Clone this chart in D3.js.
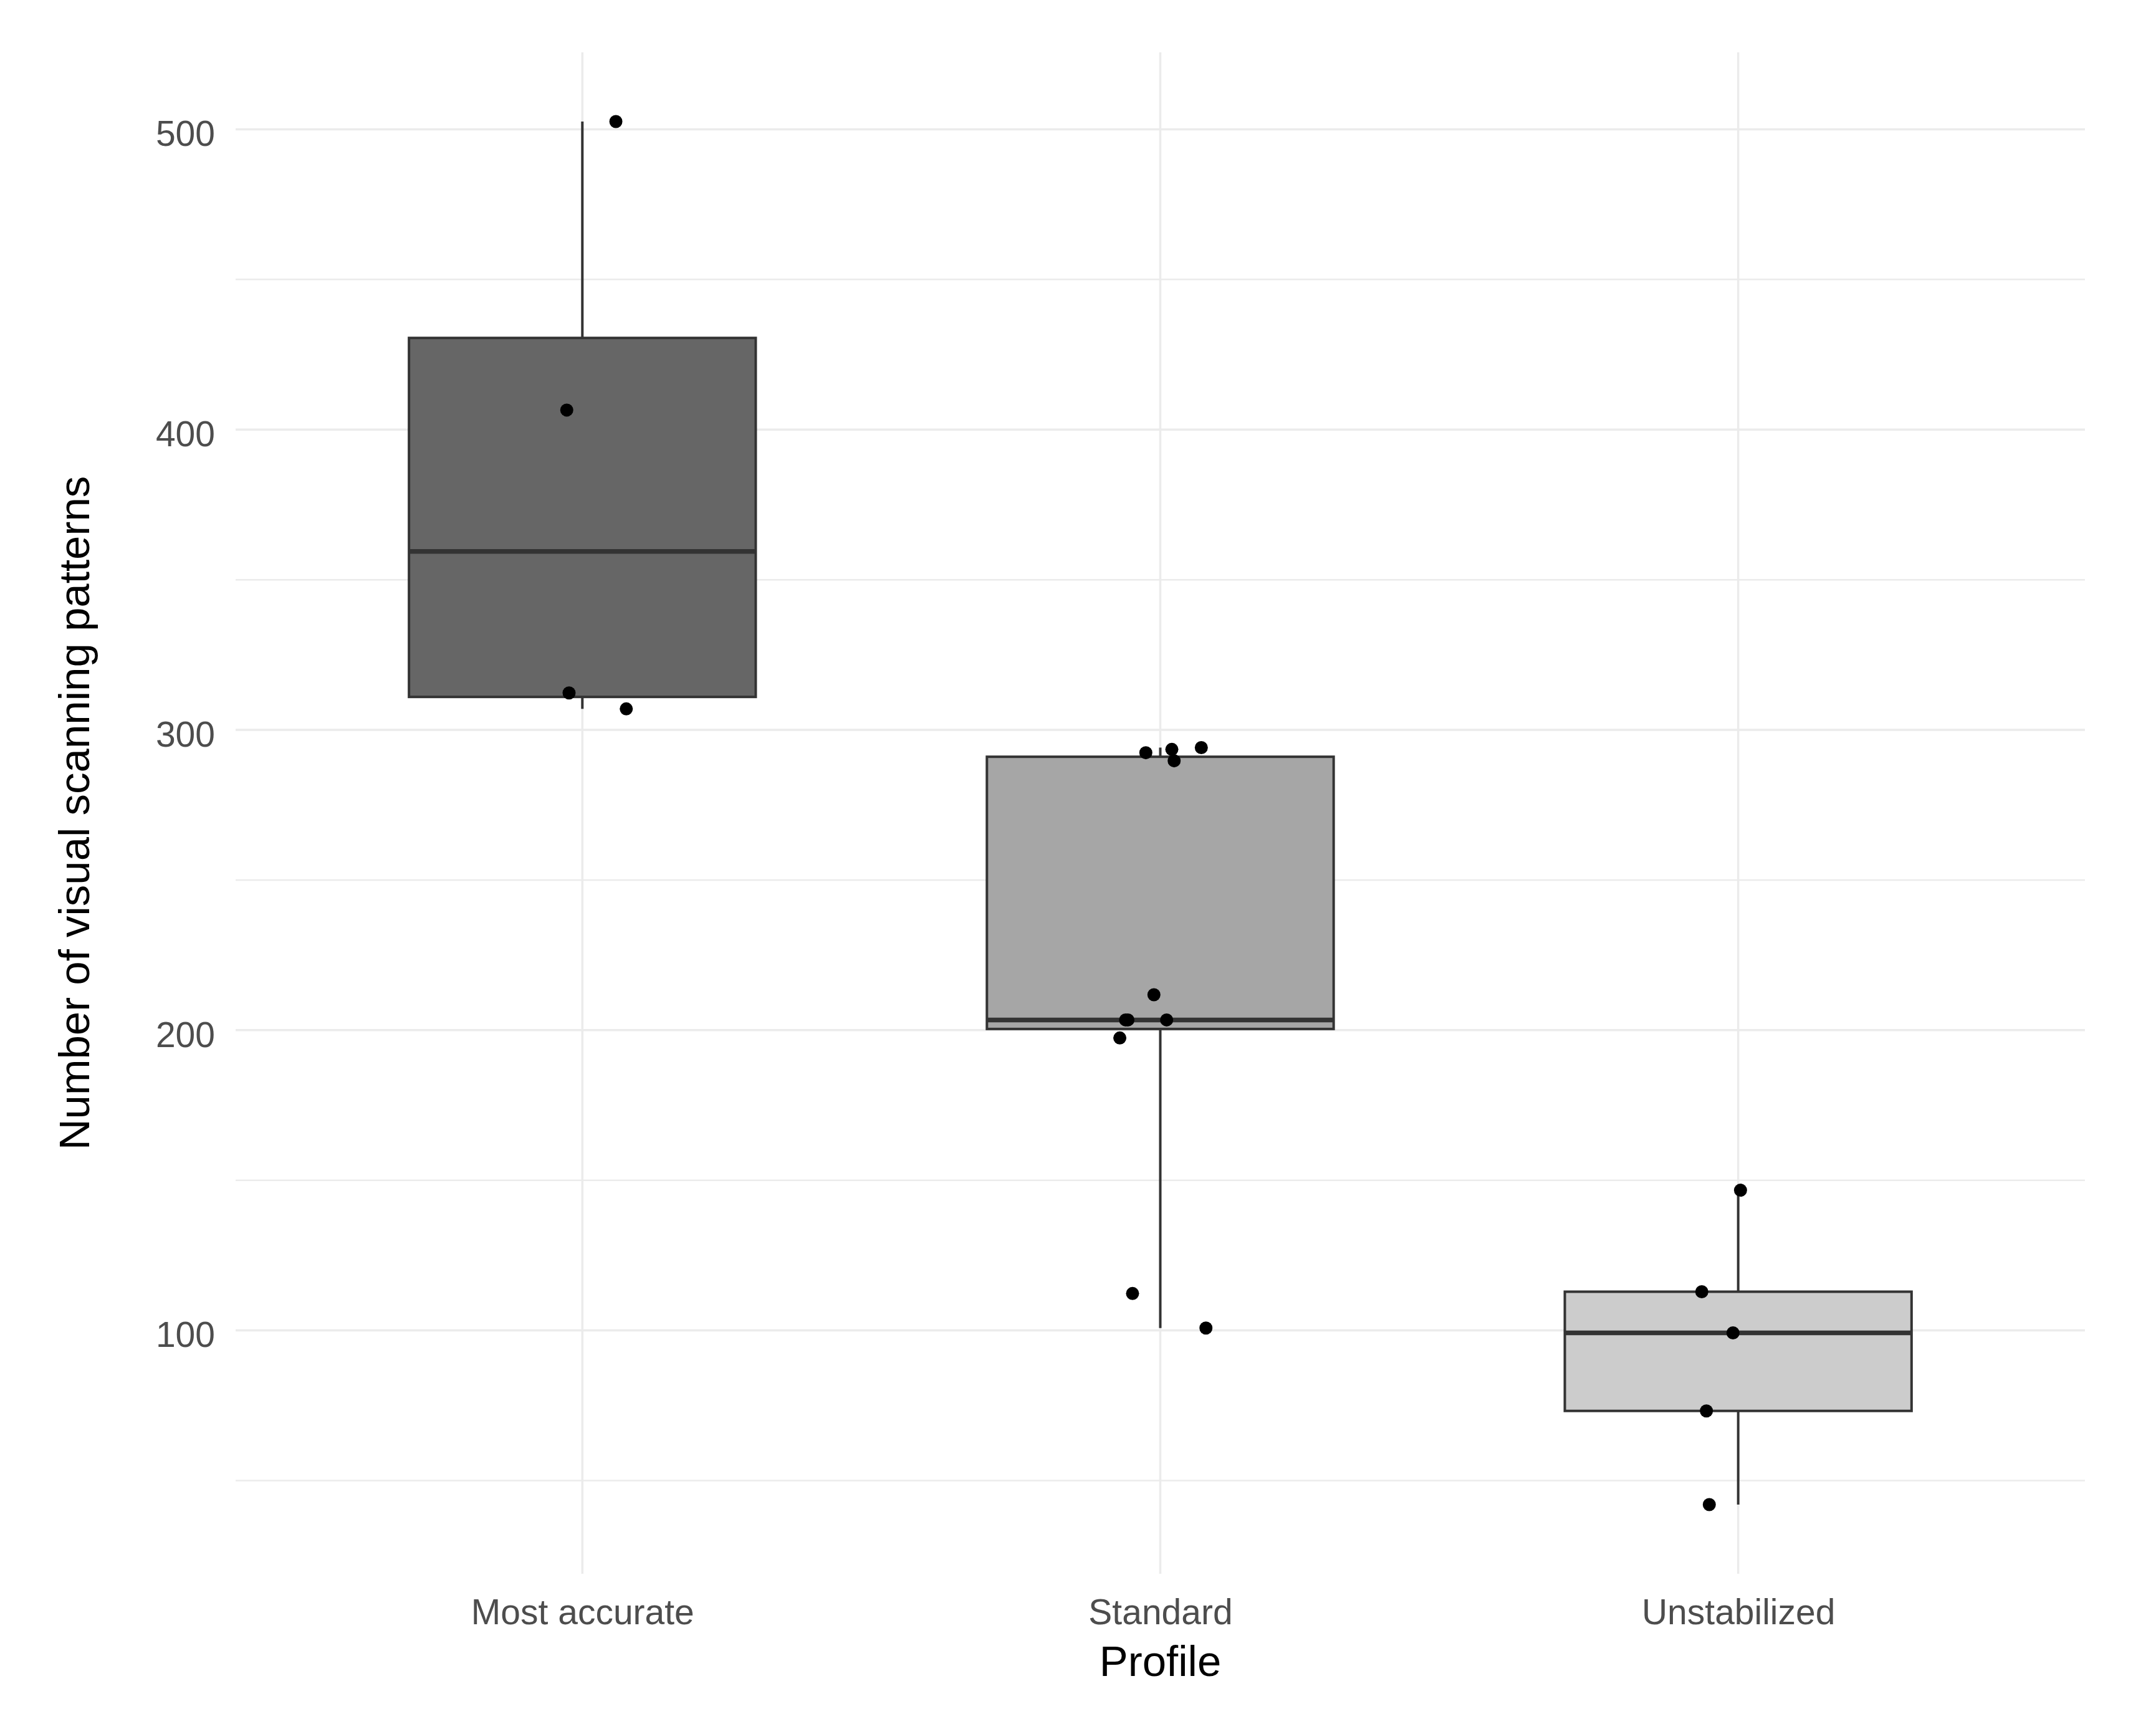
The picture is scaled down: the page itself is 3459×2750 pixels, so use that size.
<!DOCTYPE html>
<html>
<head>
<meta charset="utf-8">
<script src="https://cdn.jsdelivr.net/npm/d3@7"></script>
<style>
  body { margin: 0; background: #fff; }
  text { font-family: "Liberation Sans", Arial, sans-serif; }
</style>
</head>
<body>
<svg id="chart"></svg>
<script>
let width = 3459;
let height = 2750;

// categories on the x axis
let profiles = ['Most accurate', 'Standard', 'Unstabilized'];

let mostAccurate = [502.6, 406.5, 312.3, 307.0];
let standard = [292.4, 293.5, 289.7, 294.1, 211.8, 203.4, 203.4, 203.4, 197.4, 112.3, 100.8];
let unstabilized = [146.7, 112.9, 99.2, 73.2, 42.0];

// horizontal jitter of each point, in category units
let mostAccurateJitter = [0.058, -0.027, -0.023, 0.076];
let standardJitter = [-0.025, 0.02, 0.024, 0.071, -0.011, -0.06, -0.056, 0.011, -0.07, -0.048, 0.079];
let unstabilizedJitter = [0.004, -0.063, -0.009, -0.055, -0.05];

let fills = ['#666666', '#a6a6a6', '#cccccc'];

let yMajor = [100, 200, 300, 400, 500];
let yMinor = [50, 150, 250, 350, 450];

let groups = [
  { name: profiles[0], values: mostAccurate, jitter: mostAccurateJitter, fill: fills[0] },
  { name: profiles[1], values: standard, jitter: standardJitter, fill: fills[1] },
  { name: profiles[2], values: unstabilized, jitter: unstabilizedJitter, fill: fills[2] },
];

// box stats like ggplot (type 7 quantiles, 1.5 IQR whiskers)
groups.forEach((g) => {
  let s = g.values.slice().sort(d3.ascending);
  g.q1 = d3.quantile(s, 0.25);
  g.med = d3.quantile(s, 0.5);
  g.q3 = d3.quantile(s, 0.75);
  let iqr = g.q3 - g.q1;
  g.lo = d3.min(s.filter((v) => v >= g.q1 - 1.5 * iqr));
  g.hi = d3.max(s.filter((v) => v <= g.q3 + 1.5 * iqr));
});

let panel = { left: 378, right: 3345, top: 84, bottom: 2525 };

let all = groups.flatMap((g) => g.values);
let lo = d3.min(all);
let hi = d3.max(all);
let pad = (hi - lo) * 0.05;

let y = d3.scaleLinear().domain([lo - pad, hi + pad]).range([panel.bottom, panel.top]);
let x = d3.scalePoint().domain(profiles).range([panel.left, panel.right]).padding(0.6);
let step = x.step();
let boxW = step * 0.6;

let svg = d3.select('#chart').attr('width', width).attr('height', height);
svg.append('rect').attr('width', width).attr('height', height).attr('fill', '#fff');

// grid
let grid = svg.append('g');
grid.selectAll('.minor')
  .data(yMinor)
  .enter()
  .append('line')
  .attr('x1', panel.left)
  .attr('x2', panel.right)
  .attr('y1', (d) => y(d))
  .attr('y2', (d) => y(d))
  .attr('stroke', '#ebebeb')
  .attr('stroke-width', 2.5);
grid.selectAll('.major')
  .data(yMajor)
  .enter()
  .append('line')
  .attr('x1', panel.left)
  .attr('x2', panel.right)
  .attr('y1', (d) => y(d))
  .attr('y2', (d) => y(d))
  .attr('stroke', '#ebebeb')
  .attr('stroke-width', 3.5);
grid.selectAll('.vert')
  .data(profiles)
  .enter()
  .append('line')
  .attr('x1', (d) => x(d))
  .attr('x2', (d) => x(d))
  .attr('y1', panel.top)
  .attr('y2', panel.bottom)
  .attr('stroke', '#ebebeb')
  .attr('stroke-width', 3.5);

// boxes
let box = svg.selectAll('.box').data(groups).enter().append('g');
box.append('line')
  .attr('x1', (d) => x(d.name))
  .attr('x2', (d) => x(d.name))
  .attr('y1', (d) => y(d.hi))
  .attr('y2', (d) => y(d.q3))
  .attr('stroke', '#333')
  .attr('stroke-width', 4);
box.append('line')
  .attr('x1', (d) => x(d.name))
  .attr('x2', (d) => x(d.name))
  .attr('y1', (d) => y(d.q1))
  .attr('y2', (d) => y(d.lo))
  .attr('stroke', '#333')
  .attr('stroke-width', 4);
box.append('rect')
  .attr('x', (d) => x(d.name) - boxW / 2)
  .attr('width', boxW)
  .attr('y', (d) => y(d.q3))
  .attr('height', (d) => y(d.q1) - y(d.q3))
  .attr('fill', (d) => d.fill)
  .attr('stroke', '#333')
  .attr('stroke-width', 4);
box.append('line')
  .attr('x1', (d) => x(d.name) - boxW / 2)
  .attr('x2', (d) => x(d.name) + boxW / 2)
  .attr('y1', (d) => y(d.med))
  .attr('y2', (d) => y(d.med))
  .attr('stroke', '#333')
  .attr('stroke-width', 7.5);

// jittered points
let pts = groups.flatMap((g) => g.values.map((v, i) => ({ name: g.name, v: v, j: g.jitter[i] })));
svg.selectAll('.pt')
  .data(pts)
  .enter()
  .append('circle')
  .attr('cx', (d) => x(d.name) + d.j * step)
  .attr('cy', (d) => y(d.v))
  .attr('r', 10.5)
  .attr('fill', '#000');

// axes (no lines, only labels like theme_minimal)
let yAxis = svg.append('g')
  .attr('transform', `translate(${panel.left},0)`)
  .call(d3.axisLeft(y).tickValues(yMajor).tickSize(0).tickPadding(33));
let xAxis = svg.append('g')
  .attr('transform', `translate(0,${panel.bottom})`)
  .call(d3.axisBottom(x).tickSize(0).tickPadding(0));
[yAxis, xAxis].forEach((a) => a.select('.domain').remove());
yAxis.selectAll('text')
  .attr('font-size', 57)
  .attr('font-family', '"Liberation Sans", Arial, sans-serif')
  .attr('fill', '#4d4d4d')
  .attr('dy', '0.46em');
xAxis.selectAll('text')
  .attr('font-size', 57)
  .attr('font-family', '"Liberation Sans", Arial, sans-serif')
  .attr('fill', '#4d4d4d')
  .attr('y', 0)
  .attr('dy', 81);

svg.append('text')
  .attr('x', (panel.left + panel.right) / 2)
  .attr('y', 2689)
  .attr('text-anchor', 'middle')
  .attr('font-size', 69)
  .attr('fill', '#000')
  .text('Profile');

svg.append('text')
  .attr('transform', `translate(143,${(panel.top + panel.bottom) / 2}) rotate(-90)`)
  .attr('text-anchor', 'middle')
  .attr('font-size', 69)
  .attr('fill', '#000')
  .text('Number of visual scanning patterns');
</script>
</body>
</html>
